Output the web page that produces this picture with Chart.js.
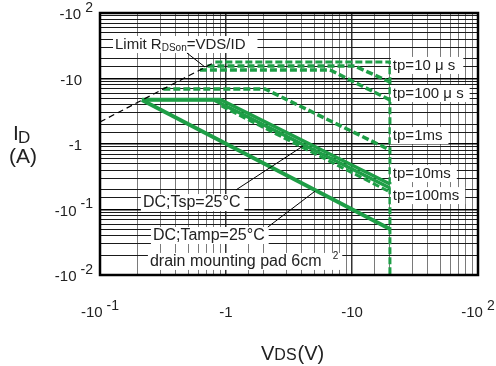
<!DOCTYPE html>
<html><head><meta charset="utf-8">
<script src="https://cdn.jsdelivr.net/npm/chart.js@4/dist/chart.umd.min.js"></script>
<style>html,body{margin:0;padding:0;background:#fff}#wrap{width:496px;height:366px;position:relative}</style>
</head><body><div id="wrap"><canvas id="c" width="496" height="366"></canvas></div>
<script>
// ---- tick labels (values plotted as magnitudes; labels carry the minus sign) ----
const xTickValues = [0.1, 1, 10, 100];
const xTickBase   = ['-10', '-1', '-10', '-10'];
const xTickExp    = ['-1', '', '', '2'];
const yTickValues = [0.01, 0.1, 1, 10, 100];
const yTickBase   = ['-10', '-10', '-1', '-10', '-10'];
const yTickExp    = ['-2', '-1', '', '', '2'];

// ---- series: |VDS| (V) and |ID| (A) ----
const limitV   = [0.1, 0.823];
const limitI   = [2.17, 17.9];
const tp10usV  = [0.823, 20, 20];
const tp10usI  = [17.9, 17.9, 0.01];
const tp10usBV = [0.713, 10.5, 20];
const tp10usBI = [15.5, 15.5, 8.84];
const tp100usV = [0.621, 6.7, 20];
const tp100usI = [13.5, 13.5, 4.70];
const tp1msV   = [0.318, 2.04, 20];
const tp1msI   = [6.92, 6.92, 0.81];
const tp10msV  = [0.215, 0.9, 20];
const tp10msI  = [4.78, 4.78, 0.245];
const tp100msV = [0.92, 20];
const tp100msI = [3.8, 0.185];
const dcTspV   = [0.215, 0.80, 20];
const dcTspI   = [4.70, 4.70, 0.213];
const dcTampV  = [0.215, 20];
const dcTampI  = [4.70, 0.0503];

const GREEN = '#1e9e46';
const FONT = '"Liberation Sans", Arial, sans-serif';
const pts = (v, i) => v.map((x, k) => ({x: x, y: i[k]}));
function ds(v, i, dashed, width, color) {
  return {data: pts(v, i), showLine: true, pointRadius: 0, borderColor: color || GREEN,
    borderWidth: width, borderDash: dashed || [], fill: false, tension: 0,
    borderCapStyle: 'butt', borderJoinStyle: 'miter'};
}

// annotation labels, anchored (left, vertical centre) in data coordinates
const notes = [
  {v: 0.1316, i: 33.6, parts: [['Limit R', 15, 0], ['DSon', 10, 3], ['=VDS/ID', 15, 0]], padR: 12},
  {v: 21.1, i: 16.1, parts: [['tp=10 \u03bc s', 15, 0]], padR: 8},
  {v: 21.1, i: 6.0, parts: [['tp=100 \u03bc s', 15, 0]], padR: 6},
  {v: 21.1, i: 1.37, parts: [['tp=1ms', 15, 0]], padR: 6},
  {v: 21.1, i: 0.36, parts: [['tp=10ms', 15, 0]], padR: 6},
  {v: 21.1, i: 0.166, parts: [['tp=100ms', 15, 0]], padR: 6},
  {v: 0.219, i: 0.130, parts: [['DC;Tsp=25\u00b0C', 16, 0]], padR: 4},
  {v: 0.263, i: 0.0408, parts: [['DC;Tamp=25\u00b0C', 16, 0]], padR: 4},
  {v: 0.249, i: 0.0164, parts: [['drain mounting pad 6cm', 16, 0], ['    2', 10, -6]], padR: 4}
];
const leaders = [
  [[0.49, 24.5], [0.68, 15.0]],
  [[1.2, 0.199], [4.08, 0.93]],
  [[2.15, 0.054], [5.08, 0.19]]
];

const decor = {
  id: 'decor',
  afterDatasetsDraw(chart) {
    const c = chart.ctx, a = chart.chartArea, sx = chart.scales.x, sy = chart.scales.y;
    c.save();
    // frame
    c.strokeStyle = '#000'; c.lineWidth = 2.5;
    c.strokeRect(a.left, a.top, a.right - a.left, a.bottom - a.top);
    // annotation labels with white background
    c.textBaseline = 'middle';
    notes.forEach(n => {
      const x0 = sx.getPixelForValue(n.v), y0 = sy.getPixelForValue(n.i);
      let w = 0;
      n.parts.forEach(p => { c.font = p[1] + 'px ' + FONT; w += c.measureText(p[0]).width; });
      c.fillStyle = '#fff';
      c.fillRect(x0 - 2, y0 - 8, w + 2 + n.padR, 17);
      c.fillStyle = '#222';
      let x = x0;
      n.parts.forEach(p => {
        c.font = p[1] + 'px ' + FONT; c.textAlign = 'left';
        c.fillText(p[0], x, y0 + 1 + p[2]);
        x += c.measureText(p[0]).width;
      });
    });
    // leader lines
    c.strokeStyle = '#000'; c.lineWidth = 1;
    leaders.forEach(l => {
      c.beginPath();
      c.moveTo(sx.getPixelForValue(l[0][0]), sy.getPixelForValue(l[0][1]));
      c.lineTo(sx.getPixelForValue(l[1][0]), sy.getPixelForValue(l[1][1]));
      c.stroke();
    });
    c.restore();
  },
  afterDraw(chart) {
    const c = chart.ctx, sx = chart.scales.x, sy = chart.scales.y;
    c.save();
    c.fillStyle = '#222'; c.textBaseline = 'middle';
    const bf = '15px ' + FONT, ef = '14px ' + FONT;
    // x tick labels
    xTickValues.forEach((v, k) => {
      c.font = bf; const wb = c.measureText(xTickBase[k]).width;
      c.font = ef; const we = xTickExp[k] ? c.measureText(xTickExp[k]).width + 4 : 0;
      const x = sx.getPixelForValue(v) - (wb + we) / 2, y = 313;
      c.textAlign = 'left';
      c.font = bf; c.fillText(xTickBase[k], x, y);
      if (xTickExp[k]) { c.font = ef; c.fillText(xTickExp[k], x + wb + 4, y - 7); }
    });
    // y tick labels
    yTickValues.forEach((v, k) => {
      c.font = bf; const wb = c.measureText(yTickBase[k]).width;
      c.font = ef; const we = yTickExp[k] ? c.measureText(yTickExp[k]).width + 4 : 0;
      const right = yTickExp[k] ? 93 : 82;
      const x = right - wb - we, y = sy.getPixelForValue(v) + 2;
      c.textAlign = 'left';
      c.font = bf; c.fillText(yTickBase[k], x, y);
      if (yTickExp[k]) { c.font = ef; c.fillText(yTickExp[k], x + wb + 4, y - 7); }
    });
    // axis titles
    c.textBaseline = 'alphabetic'; c.textAlign = 'left';
    c.font = '21px ' + FONT; c.fillText('I', 13, 140);
    c.font = '17px ' + FONT; c.fillText('D', 18, 143);
    c.font = '21px ' + FONT; c.fillText('(A)', 9, 163);
    c.font = '20px ' + FONT; c.fillText('V', 261, 360);
    let x = 261 + c.measureText('V').width;
    c.font = '16px ' + FONT; c.fillText('DS', x, 360);
    x += c.measureText('DS').width;
    c.font = '20px ' + FONT; c.fillText('(V)', x + 1, 360);
    c.restore();
  }
};

new Chart(document.getElementById('c'), {
  type: 'scatter',
  data: {datasets: [
    ds(limitV, limitI, [6, 4], 1.2, '#000'),
    ds(dcTampV, dcTampI, [], 4),
    ds(tp100msV, tp100msI, [7, 3], 3),
    ds(dcTspV, dcTspI, [], 3.5),
    ds(tp10msV, tp10msI, [], 3.5),
    ds(tp1msV, tp1msI, [7, 3], 3.5),
    ds(tp100usV, tp100usI, [7, 3], 3.5),
    ds(tp10usBV, tp10usBI, [7, 3], 3.5),
    ds(tp10usV, tp10usI, [7, 3], 3)
  ]},
  plugins: [decor],
  options: {
    responsive: false, animation: false, devicePixelRatio: 1,
    layout: {padding: {left: 100, top: 13, right: 18, bottom: 91}},
    plugins: {legend: {display: false}, tooltip: {enabled: false}},
    scales: {
      x: {type: 'logarithmic', min: 0.1, max: 100,
        ticks: {display: false}, border: {display: false},
        grid: {drawTicks: false,
          color: ctx => (ctx.tick && ctx.tick.major) ? '#333' : '#7a7a7a',
          lineWidth: ctx => (ctx.tick && ctx.tick.major) ? 1.5 : 1}},
      y: {type: 'logarithmic', min: 0.01, max: 100,
        ticks: {display: false}, border: {display: false},
        grid: {drawTicks: false,
          color: ctx => (ctx.tick && ctx.tick.major) ? '#000' : '#1a1a1a',
          lineWidth: ctx => (ctx.tick && ctx.tick.major) ? 1.5 : 1}}
    }
  }
});
</script></body></html>
